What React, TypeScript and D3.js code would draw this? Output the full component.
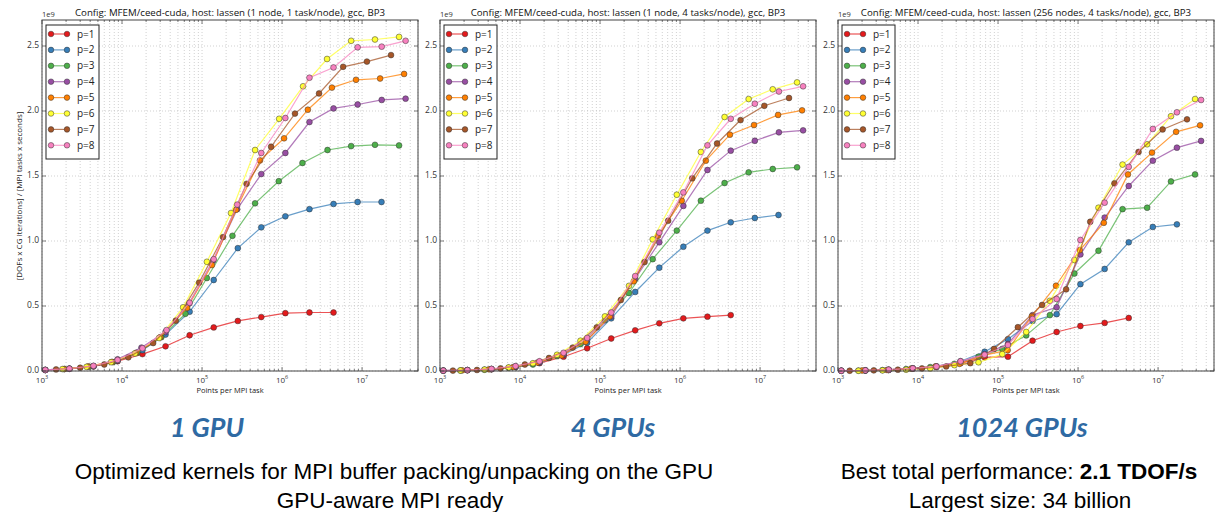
import React from 'react'
import * as d3 from 'd3'

// legend entries and colours (matplotlib Set1)
const orders = ['p=1', 'p=2', 'p=3', 'p=4', 'p=5', 'p=6', 'p=7', 'p=8']
const colors = d3.schemeSet1.slice(0, 8)

const titles = [
  'Config: MFEM/ceed-cuda, host: lassen (1 node, 1 task/node), gcc, BP3',
  'Config: MFEM/ceed-cuda, host: lassen (1 node, 4 tasks/node), gcc, BP3',
  'Config: MFEM/ceed-cuda, host: lassen (256 nodes, 4 tasks/node), gcc, BP3',
]
const gpuLabels = ['1 GPU', '4 GPUs', '1024 GPUs']

const yTicks = [0, 0.5, 1.0, 1.5, 2.0, 2.5]
const xDecades = [3, 4, 5, 6, 7]

// [points per MPI task, throughput in 1e9]
const oneGpu = [
  [[1.1e3, 0.008], [2.2e3, 0.017], [4.4e3, 0.035], [8.8e3, 0.075], [1.8e4, 0.13], [3.5e4, 0.19], [7e4, 0.275], [1.4e5, 0.335], [2.8e5, 0.385], [5.5e5, 0.415], [1.1e6, 0.445], [2.2e6, 0.45], [4.4e6, 0.45]],
  [[1.1e3, 0.008], [2.2e3, 0.018], [4.4e3, 0.037], [8.8e3, 0.08], [1.8e4, 0.16], [3.5e4, 0.28], [7e4, 0.456], [1.4e5, 0.7], [2.8e5, 0.945], [5.5e5, 1.105], [1.1e6, 1.19], [2.2e6, 1.245], [4.4e6, 1.285], [8.8e6, 1.3], [1.75e7, 1.3]],
  [[1.9e3, 0.015], [3.9e3, 0.033], [7.7e3, 0.068], [1.55e4, 0.14], [3.1e4, 0.26], [6.2e4, 0.44], [1.15e5, 0.715], [2.4e5, 1.04], [4.6e5, 1.29], [9.1e5, 1.46], [1.8e6, 1.6], [3.7e6, 1.7], [7.3e6, 1.73], [1.45e7, 1.74], [2.9e7, 1.735]],
  [[1.1e3, 0.008], [2.2e3, 0.018], [4.4e3, 0.037], [8.8e3, 0.09], [1.75e4, 0.18], [3.5e4, 0.3], [6.9e4, 0.52], [1.38e5, 0.85], [2.75e5, 1.245], [5.5e5, 1.515], [1.1e6, 1.677], [2.2e6, 1.915], [4.4e6, 2.02], [8.8e6, 2.05], [1.76e7, 2.085], [3.5e7, 2.095]],
  [[1.9e3, 0.015], [3.75e3, 0.035], [7.5e3, 0.07], [1.5e4, 0.14], [3.0e4, 0.26], [6.5e4, 0.485], [1.33e5, 0.815], [2.66e5, 1.24], [5.3e5, 1.62], [1.06e6, 1.79], [2.1e6, 2.01], [4.2e6, 2.18], [8.4e6, 2.24], [1.68e7, 2.25], [3.35e7, 2.285]],
  [[1.8e3, 0.015], [3.6e3, 0.032], [7.3e3, 0.068], [1.45e4, 0.135], [2.9e4, 0.254], [5.8e4, 0.49], [1.15e5, 0.84], [2.3e5, 1.215], [4.6e5, 1.7], [9.2e5, 1.94], [1.83e6, 2.19], [3.65e6, 2.4], [7.3e6, 2.54], [1.45e7, 2.55], [2.9e7, 2.57]],
  [[1.5e3, 0.012], [3e3, 0.025], [6e3, 0.05], [1.2e4, 0.105], [2.45e4, 0.215], [4.7e4, 0.387], [9.2e4, 0.68], [1.83e5, 1.03], [3.6e5, 1.44], [7.3e5, 1.725], [1.45e6, 1.98], [2.9e6, 2.135], [5.8e6, 2.34], [1.15e7, 2.38], [2.3e7, 2.43]],
  [[1.1e3, 0.008], [2.2e3, 0.018], [4.4e3, 0.04], [8.8e3, 0.085], [1.8e4, 0.175], [3.6e4, 0.315], [7e4, 0.525], [1.4e5, 0.86], [2.75e5, 1.28], [5.5e5, 1.677], [1.1e6, 1.946], [2.2e6, 2.256], [4.4e6, 2.335], [8.8e6, 2.49], [1.76e7, 2.495], [3.5e7, 2.54]],
]

const fourGpus = [
  [[1.1e3, 0.003], [2.2e3, 0.006], [4.4e3, 0.013], [8.8e3, 0.03], [1.75e4, 0.06], [3.5e4, 0.11], [6.9e4, 0.175], [1.38e5, 0.25], [2.75e5, 0.313], [5.5e5, 0.367], [1.1e6, 0.405], [2.2e6, 0.418], [4.3e6, 0.43]],
  [[1.1e3, 0.003], [2.2e3, 0.007], [4.4e3, 0.015], [8.8e3, 0.032], [1.75e4, 0.065], [3.5e4, 0.125], [6.9e4, 0.218], [1.38e5, 0.405], [2.75e5, 0.608], [5.5e5, 0.795], [1.1e6, 0.956], [2.2e6, 1.08], [4.3e6, 1.144], [8.6e6, 1.177], [1.7e7, 1.2]],
  [[1.8e3, 0.004], [3.6e3, 0.01], [7.2e3, 0.025], [1.45e4, 0.05], [2.9e4, 0.115], [5.7e4, 0.207], [1.15e5, 0.39], [2.3e5, 0.6], [4.55e5, 0.86], [9.1e5, 1.08], [1.82e6, 1.31], [3.6e6, 1.446], [7.2e6, 1.528], [1.44e7, 1.554], [2.9e7, 1.567]],
  [[1.1e3, 0.003], [2.2e3, 0.007], [4.4e3, 0.015], [8.8e3, 0.035], [1.75e4, 0.07], [3.5e4, 0.13], [6.9e4, 0.24], [1.38e5, 0.42], [2.75e5, 0.71], [5.5e5, 0.99], [1.1e6, 1.27], [2.2e6, 1.546], [4.3e6, 1.695], [8.6e6, 1.771], [1.72e7, 1.836], [3.45e7, 1.851]],
  [[1.9e3, 0.005], [4.1e3, 0.013], [8.2e3, 0.03], [1.65e4, 0.065], [3.3e4, 0.12], [6.6e4, 0.225], [1.32e5, 0.42], [2.64e5, 0.69], [5.3e5, 1.04], [1.05e6, 1.31], [2.1e6, 1.618], [4.2e6, 1.818], [8.4e6, 1.892], [1.68e7, 1.97], [3.35e7, 2.005]],
  [[1.8e3, 0.004], [3.6e3, 0.011], [7.2e3, 0.027], [1.45e4, 0.06], [2.9e4, 0.125], [5.7e4, 0.233], [1.15e5, 0.42], [2.3e5, 0.655], [4.55e5, 1.013], [9.1e5, 1.356], [1.82e6, 1.685], [3.6e6, 1.954], [7.2e6, 2.092], [1.44e7, 2.167], [2.9e7, 2.22]],
  [[1.45e3, 0.003], [2.9e3, 0.008], [5.7e3, 0.02], [1.15e4, 0.05], [2.3e4, 0.1], [4.55e4, 0.18], [9.1e4, 0.336], [1.82e5, 0.546], [3.6e5, 0.838], [7.1e5, 1.156], [1.42e6, 1.482], [2.9e6, 1.75], [5.7e6, 1.93], [1.13e7, 2.04], [2.3e7, 2.1]],
  [[1.1e3, 0.003], [2.2e3, 0.007], [4.4e3, 0.016], [8.8e3, 0.038], [1.75e4, 0.075], [3.5e4, 0.14], [6.9e4, 0.254], [1.38e5, 0.45], [2.75e5, 0.73], [5.5e5, 1.064], [1.1e6, 1.374], [2.2e6, 1.736], [4.3e6, 1.94], [8.6e6, 2.056], [1.72e7, 2.15], [3.45e7, 2.19]],
]

const manyGpus = [
  [[1.1e3, 0.002], [2.2e3, 0.004], [4.3e3, 0.008], [8.6e3, 0.018], [1.7e4, 0.03], [3.4e4, 0.06], [6.8e4, 0.105], [1.33e5, 0.11], [2.7e5, 0.233], [5.4e5, 0.3], [1.07e6, 0.346], [2.15e6, 0.37], [4.3e6, 0.408]],
  [[1.1e3, 0.002], [2.2e3, 0.004], [4.3e3, 0.008], [8.6e3, 0.02], [1.7e4, 0.035], [3.4e4, 0.075], [6.8e4, 0.148], [1.33e5, 0.245], [2.7e5, 0.385], [5.4e5, 0.437], [1.07e6, 0.668], [2.15e6, 0.785], [4.3e6, 0.99], [8.6e6, 1.108], [1.72e7, 1.128]],
  [[1.8e3, 0.003], [3.6e3, 0.007], [7.1e3, 0.015], [1.42e4, 0.03], [2.85e4, 0.055], [5.7e4, 0.11], [1.13e5, 0.17], [2.25e5, 0.274], [4.45e5, 0.43], [9e5, 0.75], [1.8e6, 0.925], [3.6e6, 1.245], [7.3e6, 1.256], [1.45e7, 1.458], [2.9e7, 1.512]],
  [[1.1e3, 0.002], [2.2e3, 0.005], [4.3e3, 0.01], [8.6e3, 0.02], [1.7e4, 0.035], [3.4e4, 0.07], [6.8e4, 0.13], [1.33e5, 0.208], [2.7e5, 0.43], [5.4e5, 0.49], [1.07e6, 0.897], [2.15e6, 1.18], [4.3e6, 1.423], [8.6e6, 1.618], [1.72e7, 1.718], [3.45e7, 1.77]],
  [[2e3, 0.004], [4.1e3, 0.008], [8.2e3, 0.018], [1.65e4, 0.035], [3.3e4, 0.055], [6.6e4, 0.12], [1.32e5, 0.16], [2.64e5, 0.42], [5.3e5, 0.656], [1.05e6, 0.93], [2.1e6, 1.14], [4.2e6, 1.512], [8.4e6, 1.68], [1.68e7, 1.84], [3.35e7, 1.89]],
  [[1.8e3, 0.002], [3.6e3, 0.005], [7.1e3, 0.01], [1.42e4, 0.02], [2.85e4, 0.045], [5.7e4, 0.067], [1.13e5, 0.13], [2.25e5, 0.3], [4.45e5, 0.54], [9e5, 0.854], [1.8e6, 1.256], [3.6e6, 1.588], [7.3e6, 1.744], [1.45e7, 1.96], [2.9e7, 2.092]],
  [[1.4e3, 0.002], [2.8e3, 0.005], [5.6e3, 0.01], [1.12e4, 0.02], [2.25e4, 0.035], [4.5e4, 0.06], [8.9e4, 0.17], [1.77e5, 0.337], [3.55e5, 0.508], [7.1e5, 0.628], [1.42e6, 1.148], [2.85e6, 1.444], [5.7e6, 1.685], [1.14e7, 1.858], [2.3e7, 1.936]],
  [[1.1e3, 0.002], [2.2e3, 0.005], [4.3e3, 0.01], [8.6e3, 0.02], [1.7e4, 0.035], [3.4e4, 0.075], [6.8e4, 0.125], [1.33e5, 0.2], [2.7e5, 0.4], [5.4e5, 0.554], [1.07e6, 1.008], [2.15e6, 1.295], [4.3e6, 1.57], [8.6e6, 1.862], [1.72e7, 1.99], [3.45e7, 2.085]],
]

const panels = [oneGpu, fourGpus, manyGpus]

const width = 1219
const height = 512
const plotW = 376
const top = 20
const bottom = 371
const panelLeft = [42, 440, 838]
const labelX = [207, 613, 1022]
const font = '"Open Sans", "Noto Sans", sans-serif'

const x = d3.scaleLog().domain([1e3, 5e7]).range([0, plotW])
const y = d3.scaleLinear().domain([0, 2.7]).range([bottom, top])
const line = d3.line<number[]>().x(d => x(d[0])).y(d => y(d[1]))

const Legend = () => (
  <g>
    <rect x={4} y={25} width={53} height={134} fill="white" stroke="#222" strokeWidth={1} />
    {orders.map((label, i) => {
      const ly = 34 + i * 15.9
      return (
        <g key={label}>
          <line x1={9} x2={25} y1={ly} y2={ly} stroke={colors[i]} strokeWidth={1.2} strokeOpacity={0.75} />
          <circle cx={9} cy={ly} r={2.8} fill={colors[i]} stroke="#333" strokeWidth={0.5} />
          <circle cx={25} cy={ly} r={2.8} fill={colors[i]} stroke="#333" strokeWidth={0.5} />
          <text x={35} y={ly} dy="0.35em" fontSize={10} fill="#222" fontFamily={font}>{label}</text>
        </g>
      )
    })}
  </g>
)

const Panel = ({ left, title, data, showYLabel }) => (
  <g transform={`translate(${left},0)`}>
    {x.ticks().map(t => (
      <line key={'gx' + t} x1={x(t)} x2={x(t)} y1={top} y2={bottom} stroke="#bdbdbd" strokeWidth={0.7} strokeDasharray="1,2" />
    ))}
    {yTicks.map(t => (
      <line key={'gy' + t} x1={0} x2={plotW} y1={y(t)} y2={y(t)} stroke="#bdbdbd" strokeWidth={0.7} strokeDasharray="1,2" />
    ))}
    {data.map((s, i) => (
      <g key={i}>
        <path d={line(s)} fill="none" stroke={colors[i]} strokeWidth={1.2} strokeOpacity={0.75} />
        {s.map((d, j) => (
          <circle key={j} cx={x(d[0])} cy={y(d[1])} r={2.9} fill={colors[i]} stroke="#333" strokeWidth={0.5} />
        ))}
      </g>
    ))}
    <rect x={0} y={top} width={plotW} height={bottom - top} fill="none" stroke="#444" strokeWidth={1} />
    {x.ticks().map(t => {
      const major = xDecades.some(k => Math.abs(t - 10 ** k) < 1e-6 * t)
      const len = major ? 4 : 2
      return (
        <g key={'tx' + t}>
          <line x1={x(t)} x2={x(t)} y1={bottom} y2={bottom - len} stroke="#444" strokeWidth={0.7} />
          <line x1={x(t)} x2={x(t)} y1={top} y2={top + len} stroke="#444" strokeWidth={0.7} />
        </g>
      )
    })}
    {yTicks.map(t => (
      <g key={'ty' + t}>
        <line x1={0} x2={4} y1={y(t)} y2={y(t)} stroke="#444" strokeWidth={0.7} />
        <line x1={plotW} x2={plotW - 4} y1={y(t)} y2={y(t)} stroke="#444" strokeWidth={0.7} />
        <text x={-3} y={y(t) - 0.5} dy="0.35em" textAnchor="end" fontSize={8.5} fill="#333" fontFamily={font}>{t.toFixed(1)}</text>
      </g>
    ))}
    {xDecades.map(k => (
      <text key={'lx' + k} x={x(10 ** k)} y={382.5} textAnchor="middle" fontSize={8} fill="#333" fontFamily={font}>
        10<tspan dy={-3.5} fontSize={5.5}>{k}</tspan>
      </text>
    ))}
    <text x={plotW / 2} y={393} textAnchor="middle" fontSize={7.5} fill="#222" fontFamily={font}>Points per MPI task</text>
    <text x={0} y={17} fontSize={7.5} fill="#333" fontFamily={font}>1e9</text>
    <text x={plotW / 2} y={16} textAnchor="middle" fontSize={9.7} fill="#111" fontFamily={font}>{title}</text>
    {showYLabel && (
      <text transform={`translate(-20,196) rotate(-90)`} textAnchor="middle" fontSize={8} fill="#222" fontFamily={font}>
        [DOFs x CG iterations] / [MPI tasks x seconds]
      </text>
    )}
    <Legend />
  </g>
)

const App = () => (
  <div style={{ position: 'absolute', left: 0, top: 0 }}>
    <svg width={width} height={height} style={{ display: 'block', background: 'white' }}>
      {panels.map((data, i) => (
        <Panel key={i} left={panelLeft[i]} title={titles[i]} data={data} showYLabel={i === 0} />
      ))}
      {gpuLabels.map((label, i) => (
        <text key={label} x={labelX[i]} y={437} textAnchor="middle" fontSize={27} fontWeight="bold" fontStyle="italic" fill="#2f6aa3" fontFamily="Lato, sans-serif">
          {label}
        </text>
      ))}
      <g fontFamily='"Liberation Sans", Arial, sans-serif' fontSize={22.5} fill="#000" textAnchor="middle">
        <text x={394} y={479}>Optimized kernels for MPI buffer packing/unpacking on the GPU</text>
        <text x={390} y={508}>GPU-aware MPI ready</text>
        <text x={1019} y={479}>Best total performance: <tspan fontWeight="bold">2.1 TDOF/s</tspan></text>
        <text x={1020} y={508}>Largest size: 34 billion</text>
      </g>
    </svg>
  </div>
)

export default App
